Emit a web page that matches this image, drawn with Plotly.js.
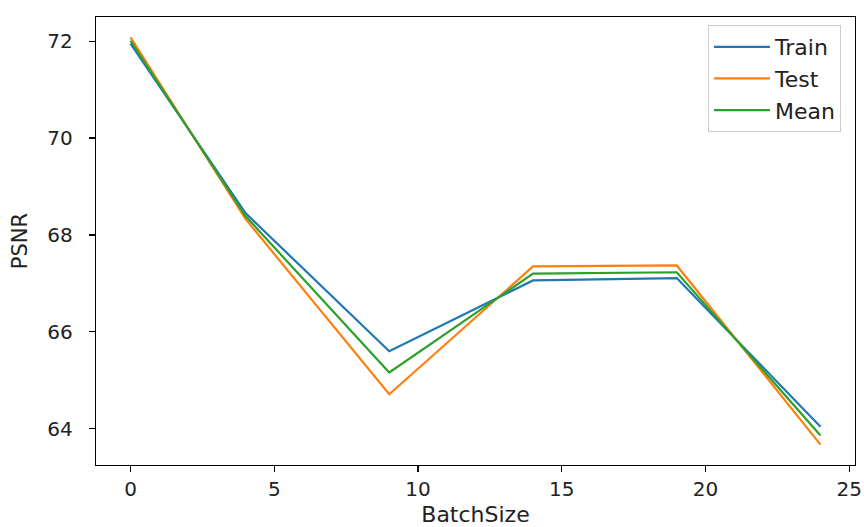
<!DOCTYPE html>
<html>
<head>
<meta charset="utf-8">
<script src="https://cdn.plot.ly/plotly-3.0.1.min.js"></script>
<style>html,body{margin:0;padding:0;background:#fff;}#chart{width:864px;height:527px;}</style>
</head>
<body>
<div id="chart"></div>
<script>
const batchSize = [0, 4, 9, 14, 19, 24];
const trainPSNR = [71.95, 68.45, 65.60, 67.06, 67.11, 64.04];
const testPSNR  = [72.08, 68.33, 64.71, 67.35, 67.37, 63.67];
const meanPSNR  = [72.01, 68.39, 65.16, 67.20, 67.23, 63.86];
const seriesNames = ["Train", "Test", "Mean"];
const colors = ["#1f77b4", "#ff7f0e", "#2ca02c"];
const xTicks = [0, 5, 10, 15, 20, 25];
const yTicks = [64, 66, 68, 70, 72];

const ys = [trainPSNR, testPSNR, meanPSNR];
const traces = ys.map((y, i) => ({
  x: batchSize, y: y, type: "scatter", mode: "lines",
  name: seriesNames[i],
  line: {color: colors[i], width: 2.2}
}));

const axisCommon = {
  showline: true, mirror: true, linecolor: "#000", linewidth: 1.2,
  ticks: "outside", ticklen: 6, tickwidth: 1.2, tickcolor: "#000",
  showgrid: false, zeroline: false, automargin: false,
  tickfont: {family: "DejaVu Sans", size: 20, color: "#222"}
};

const layout = {
  width: 864, height: 527,
  margin: {l: 96, r: 9, t: 17, b: 62},
  paper_bgcolor: "#fff", plot_bgcolor: "#fff",
  font: {family: "DejaVu Sans", color: "#222"},
  xaxis: Object.assign({}, axisCommon, {
    range: [-1.2, 25.2], tickvals: xTicks, ticktext: xTicks.map(String),
    ticklabelstandoff: 0,
    title: {text: "BatchSize", font: {family: "DejaVu Sans", size: 22, color: "#222"}, standoff: 8}
  }),
  yaxis: Object.assign({}, axisCommon, {
    range: [63.25, 72.5], tickvals: yTicks, ticktext: yTicks.map(String),
    ticklabelstandoff: 12,
    title: {text: "PSNR", font: {family: "DejaVu Sans", size: 21, color: "#222"}, standoff: 14}
  }),
  showlegend: true,
  legend: {
    x: 0.9816, xanchor: "right", y: 0.982, yanchor: "top",
    bgcolor: "rgba(255,255,255,0.8)", bordercolor: "#ccc", borderwidth: 1,
    font: {family: "DejaVu Sans", size: 22, color: "#222"},
    itemwidth: 56
  }
};

Plotly.newPlot("chart", traces, layout, {displayModeBar: false, staticPlot: true});
</script>
</body>
</html>
